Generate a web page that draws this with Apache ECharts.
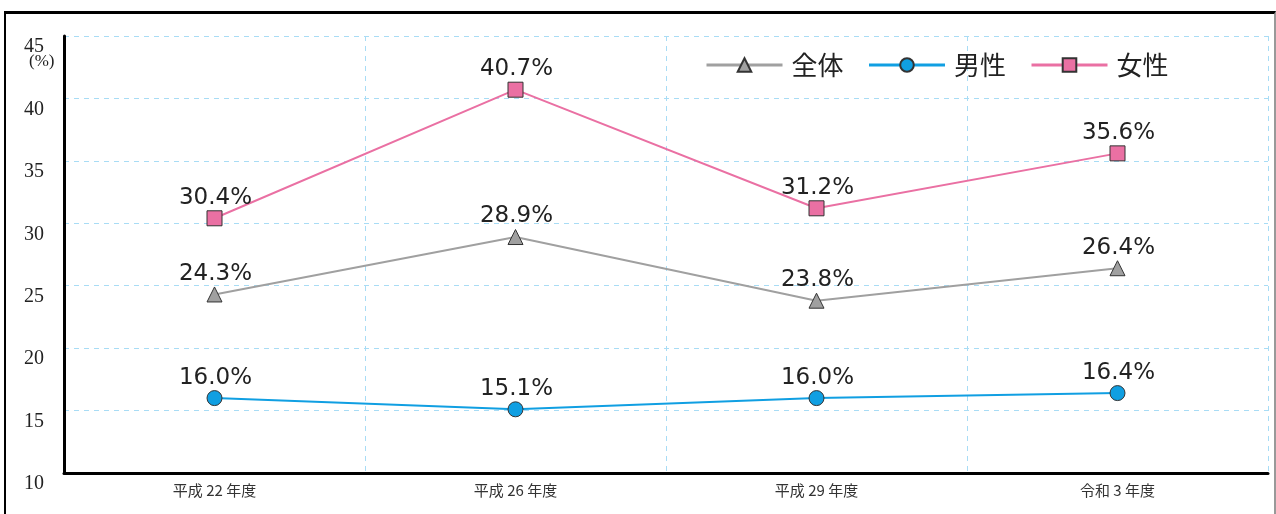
<!DOCTYPE html>
<html><head><meta charset="utf-8">
<script src="https://cdn.jsdelivr.net/npm/echarts@6/dist/echarts.min.js"></script>
<style>
html,body{margin:0;padding:0;background:#fff;}
#frame{position:absolute;left:4px;top:11px;width:1272px;height:520px;border-top:3px solid #000;border-left:2px solid #000;border-right:2px solid #999;box-sizing:border-box;}
#c{position:absolute;left:0;top:0;width:1276px;height:514px;}
</style></head>
<body>
<div id="frame"></div>
<div id="c"></div>
<script>
const categories = ['平成 22 年度', '平成 26 年度', '平成 29 年度', '令和 3 年度'];
const seriesNames = ['全体', '男性', '女性'];
const totalValues = [24.3, 28.9, 23.8, 26.4];
const maleValues = [16.0, 15.1, 16.0, 16.4];
const femaleValues = [30.4, 40.7, 31.2, 35.6];

const chart = echarts.init(document.getElementById('c'));
const labelCfg = {
  show: true, position: 'top', distance: 8, offset: [1, 7],
  formatter: p => p.value.toFixed(1) + '%',
  fontFamily: 'DejaVu Sans', fontSize: 23, color: '#222'
};
function mk(name, data, color, markerColor, symbol) {
  return {
    name, type: 'line', data, symbol, symbolSize: 15,
    lineStyle: { color, width: 2 },
    itemStyle: { color: markerColor, borderColor: '#333', borderWidth: 1 },
    label: labelCfg, z: 3
  };
}
chart.setOption({
  animation: false,
  grid: { left: 64, right: 8, top: 36, bottom: 41 },
  legend: {
    left: 700, top: 47, itemWidth: 76, itemHeight: 17, itemGap: 24,
    data: seriesNames,
    lineStyle: { width: 3 },
    textStyle: { fontFamily: 'Noto Sans CJK JP', fontSize: 26, color: '#222', padding: [0, 0, 0, 4] }
  },
  xAxis: {
    type: 'category', data: categories, boundaryGap: true,
    axisLine: { lineStyle: { color: '#000', width: 3 } },
    axisTick: { show: false },
    axisLabel: { fontFamily: 'Noto Sans CJK JP', fontSize: 15, color: '#333', margin: 10 },
    splitLine: { show: true, interval: 0, lineStyle: { color: '#a8dcf5', type: [5, 5], width: 1 } }
  },
  yAxis: {
    type: 'value', min: 10, max: 45, interval: 5,
    axisLine: { show: true, lineStyle: { color: '#000', width: 3 } },
    axisTick: { show: false },
    axisLabel: { fontFamily: 'Liberation Serif', fontSize: 20, color: '#222', margin: 20, verticalAlign: 'top', padding: [1, 0, 0, 0] },
    splitLine: { lineStyle: { color: '#a8dcf5', type: [5, 5], width: 1 } }
  },
  graphic: [
    { type: 'text', left: 29, top: 53, style: { text: '(%)', font: '17px "Liberation Serif"', fill: '#222' } }
  ],
  series: [
    mk(seriesNames[0], totalValues, '#a0a0a0', '#a0a0a0', 'triangle'),
    mk(seriesNames[1], maleValues, '#109fe2', '#109fe2', 'circle'),
    mk(seriesNames[2], femaleValues, '#ea70a3', '#ea70a3', 'rect')
  ]
});
</script>
</body></html>
